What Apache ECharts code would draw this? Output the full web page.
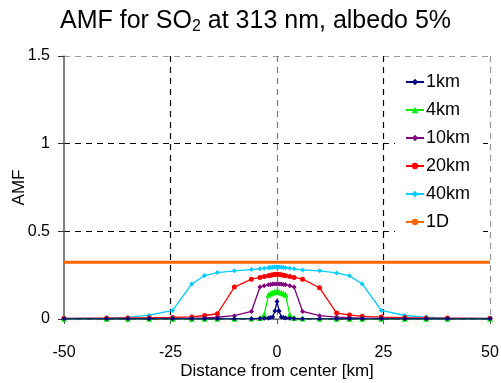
<!DOCTYPE html>
<html><head><meta charset="utf-8">
<script src="https://cdn.jsdelivr.net/npm/echarts@6/dist/echarts.min.js"></script>
<style>html,body{margin:0;padding:0;background:#fff}#c{width:501px;height:383px}</style>
</head><body><div id="c"></div>
<script>
var xs = [-50,-40,-35,-30,-24.5,-20,-17,-14,-10,-6,-4,-3,-2,-1.5,-1,-0.5,0,0.5,1,1.5,2,3,4,6,10,14,17,20,24.5,30,35,40,50];
var km1  = [0.001,0.001,0.001,0.001,0.001,0.001,0.001,0.001,0.001,0.002,0.003,0.004,0.006,0.008,0.012,0.045,0.10,0.045,0.012,0.008,0.006,0.004,0.003,0.002,0.001,0.001,0.001,0.001,0.001,0.001,0.001,0.001,0.001];
var km4  = [0.001,0.001,0.001,0.001,0.001,0.001,0.001,0.002,0.002,0.003,0.005,0.025,0.138,0.145,0.15,0.155,0.156,0.155,0.15,0.145,0.138,0.025,0.005,0.003,0.002,0.002,0.001,0.001,0.001,0.001,0.001,0.001,0.001];
var km10 = [0.002,0.002,0.002,0.003,0.003,0.004,0.006,0.010,0.019,0.043,0.182,0.19,0.195,0.197,0.199,0.2,0.2,0.2,0.199,0.197,0.195,0.19,0.182,0.043,0.019,0.011,0.007,0.005,0.004,0.003,0.002,0.002,0.002];
var km20 = [0.004,0.005,0.006,0.007,0.009,0.012,0.020,0.030,0.182,0.227,0.237,0.242,0.247,0.25,0.252,0.254,0.255,0.254,0.252,0.25,0.247,0.242,0.237,0.227,0.178,0.034,0.023,0.015,0.011,0.008,0.006,0.005,0.004];
var km40 = [0.003,0.005,0.009,0.022,0.049,0.20,0.248,0.265,0.275,0.282,0.286,0.29,0.292,0.294,0.295,0.296,0.297,0.296,0.295,0.294,0.292,0.29,0.286,0.28,0.275,0.263,0.246,0.20,0.049,0.020,0.011,0.005,0.003];
var oneD_x = [-50, 50];
var oneD = [0.324, 0.324];
var names = ['1km','4km','10km','20km','40km','1D'];
var colors = ['#000080','#00ee00','#800080','#ff0000','#00ccff','#ff6600'];
var symbols = ['diamond','triangle','diamond','circle','diamond','none'];

function pairs(x, y){ return x.map(function(v,i){ return [v, y[i]]; }); }
var ser = [km1, km4, km10, km20, km40].map(function(arr, i){
  return {name: names[i], type:'line', data: pairs(xs, arr), symbol: symbols[i], symbolSize: i===1?6:5,
    showAllSymbol:true, lineStyle:{color:colors[i], width:1.3}, itemStyle:{color:colors[i]}, z: 10 - i};
});
ser.reverse();
ser.push({name:'1D', type:'line', data: pairs(oneD_x, oneD), symbol:'none', lineStyle:{color:colors[5], width:3}, itemStyle:{color:colors[5]}, z:1});

var chart = echarts.init(document.getElementById('c'), null, {renderer:'canvas'});
var font = 'Liberation Sans, Arial, sans-serif';
chart.setOption({
  animation:false,
  textStyle:{fontFamily:font},
  title:{
    text:'AMF for SO{sub|2} at 313 nm, albedo 5%', left:55, top:3,
    textStyle:{fontFamily:font, fontSize:25, fontWeight:'normal', color:'#000',
      rich:{sub:{fontFamily:font, fontSize:16, verticalAlign:'bottom', padding:[11,0,0,0], color:'#000'}}}
  },
  legend:{
    orient:'vertical', left:395, top:67, itemWidth:18, itemHeight:8, itemGap:10,
    padding:[6,13,6,10], backgroundColor:'#fff',
    data: names,
    textStyle:{fontFamily:font, fontSize:18, color:'#000', lineHeight:18, padding:[0,0,0,-3]}
  },
  grid:{left:64, right:11, top:56, bottom:64, outerBoundsMode:'none', containLabel:false},
  xAxis:{
    type:'value', min:-50, max:50, interval:25,
    name:'Distance from center [km]', nameLocation:'middle', nameGap:44, nameMoveOverlap:false,
    nameTextStyle:{fontFamily:font, fontSize:17, color:'#000'},
    axisLine:{show:true, onZero:false, lineStyle:{color:'#888', width:1.5}},
    axisTick:{show:true, length:5, lineStyle:{color:'#555'}},
    axisLabel:{fontFamily:font, fontSize:16, color:'#000', margin:26},
    splitLine:{show:true, lineStyle:{type:[6,5], color:['rgba(0,0,0,0)','#000','#777','#000','#999'], width:1.2}}
  },
  yAxis:{
    type:'value', min:0, max:1.5, interval:0.5,
    name:'AMF', nameLocation:'middle', nameGap:36, nameMoveOverlap:false,
    nameTextStyle:{fontFamily:font, fontSize:17, color:'#000'},
    axisLine:{show:true, onZero:false, lineStyle:{color:'#555', width:1.5}},
    axisTick:{show:true, inside:false, length:6, lineStyle:{color:'#333'}},
    axisLabel:{fontFamily:font, fontSize:16, color:'#000', margin:14},
    splitLine:{show:true, lineStyle:{type:[6,5], color:['#000','#000','#000','#999'], width:1.2}}
  },
  series: ser
});
</script></body></html>
